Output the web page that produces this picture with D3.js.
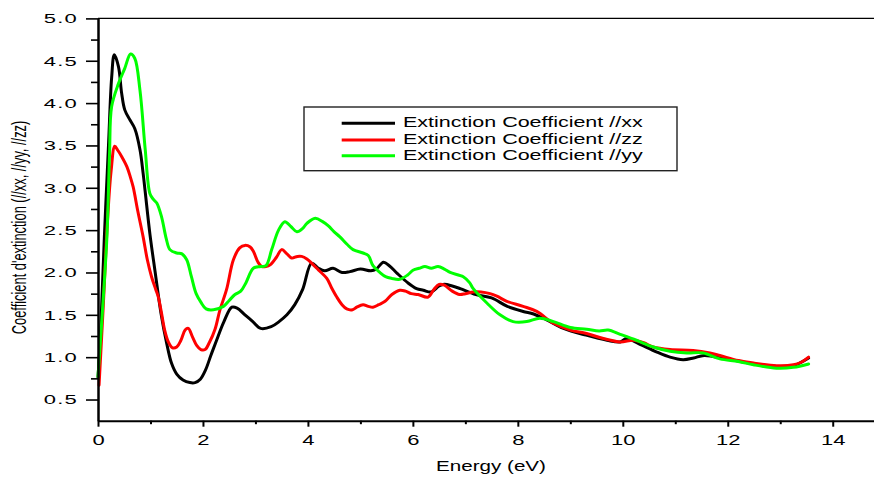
<!DOCTYPE html>
<html><head><meta charset="utf-8">
<script src="https://cdn.jsdelivr.net/npm/d3@7"></script>
<style>html,body{margin:0;padding:0;background:#fff;}svg{display:block;font-family:"Liberation Sans",Arial,sans-serif;}</style>
</head><body>
<svg id="c" width="874" height="477"></svg>
<script>
// ---- data ----
const xTicks = [0, 2, 4, 6, 8, 10, 12, 14];
const xMinorTicks = [1, 3, 5, 7, 9, 11, 13, 15];
const yTicks = [0.5, 1.0, 1.5, 2.0, 2.5, 3.0, 3.5, 4.0, 4.5, 5.0];
const yMinorTicks = [0.75, 1.25, 1.75, 2.25, 2.75, 3.25, 3.75, 4.25, 4.75];
const seriesNames = ["Extinction Coefficient //xx", "Extinction Coefficient //zz", "Extinction Coefficient //yy"];
const seriesColors = ["#000000", "#ff0000", "#00ff00"];

const kXX = [[0,0.76],[0.05,1.3],[0.12,2.4],[0.2,3.5],[0.26,4.3],[0.31,4.57],[0.39,4.43],[0.45,4.12],[0.51,3.92],[0.61,3.8],[0.7,3.7],[0.8,3.45],[0.86,3.17],[0.9,2.95],[0.99,2.45],[1.09,2.0],[1.2,1.52],[1.31,1.16],[1.4,0.93],[1.5,0.8],[1.62,0.73],[1.75,0.7],[1.85,0.7],[1.95,0.74],[2.05,0.85],[2.15,1.02],[2.26,1.2],[2.4,1.42],[2.55,1.59],[2.65,1.58],[2.8,1.5],[2.95,1.42],[3.1,1.34],[3.3,1.36],[3.45,1.42],[3.6,1.5],[3.75,1.62],[3.9,1.8],[4.07,2.11],[4.2,2.05],[4.32,2.02],[4.48,2.05],[4.65,2.0],[4.8,2.01],[5.0,2.04],[5.2,2.02],[5.3,2.04],[5.44,2.12],[5.55,2.08],[5.7,1.99],[5.9,1.88],[6.07,1.81],[6.2,1.79],[6.35,1.77],[6.5,1.84],[6.6,1.86],[6.75,1.84],[6.9,1.81],[7.2,1.74],[7.5,1.7],[7.8,1.6],[8.1,1.54],[8.3,1.51],[8.55,1.44],[8.87,1.34],[9.3,1.26],[9.7,1.2],[9.95,1.18],[10.07,1.22],[10.3,1.16],[10.65,1.06],[10.9,1.0],[11.15,0.97],[11.35,0.99],[11.55,1.02],[11.97,0.98],[12.5,0.92],[12.93,0.89],[13.25,0.9],[13.54,0.99]];

const kZZ = [[0.02,0.67],[0.1,1.6],[0.18,2.6],[0.25,3.2],[0.32,3.49],[0.38,3.44],[0.45,3.37],[0.55,3.25],[0.62,3.12],[0.67,3.01],[0.76,2.72],[0.86,2.42],[0.94,2.15],[1.02,1.95],[1.1,1.8],[1.15,1.71],[1.21,1.52],[1.27,1.32],[1.34,1.18],[1.42,1.11],[1.5,1.12],[1.58,1.2],[1.66,1.32],[1.72,1.34],[1.8,1.24],[1.88,1.14],[1.96,1.09],[2.04,1.09],[2.12,1.17],[2.23,1.33],[2.32,1.55],[2.45,1.8],[2.58,2.15],[2.7,2.29],[2.8,2.32],[2.9,2.3],[2.96,2.25],[3.05,2.12],[3.12,2.07],[3.2,2.07],[3.28,2.09],[3.4,2.18],[3.5,2.27],[3.6,2.22],[3.69,2.17],[3.8,2.19],[3.88,2.19],[3.98,2.16],[4.07,2.11],[4.2,2.03],[4.36,1.93],[4.45,1.82],[4.55,1.71],[4.65,1.62],[4.74,1.57],[4.85,1.56],[4.93,1.59],[5.05,1.62],[5.15,1.6],[5.24,1.59],[5.35,1.62],[5.47,1.66],[5.6,1.74],[5.75,1.79],[5.86,1.78],[5.97,1.75],[6.1,1.74],[6.29,1.71],[6.4,1.8],[6.5,1.86],[6.6,1.85],[6.75,1.78],[6.89,1.74],[7.0,1.75],[7.15,1.77],[7.3,1.77],[7.47,1.75],[7.6,1.72],[7.79,1.66],[8.1,1.6],[8.36,1.54],[8.68,1.4],[9.0,1.32],[9.31,1.28],[9.63,1.22],[9.95,1.18],[10.2,1.2],[10.4,1.17],[10.58,1.12],[10.9,1.09],[11.34,1.08],[11.66,1.05],[11.85,1.02],[12.2,0.96],[12.49,0.93],[12.93,0.9],[13.25,0.91],[13.4,0.94],[13.54,1.0]];

const kYY = [[0,0.77],[0.08,1.5],[0.17,2.42],[0.22,3.4],[0.26,3.96],[0.39,4.23],[0.51,4.41],[0.62,4.58],[0.7,4.53],[0.8,4.15],[0.9,3.45],[0.99,2.93],[1.06,2.86],[1.12,2.82],[1.21,2.66],[1.3,2.4],[1.37,2.27],[1.5,2.23],[1.6,2.22],[1.69,2.15],[1.78,1.95],[1.87,1.75],[1.96,1.65],[2.06,1.57],[2.2,1.56],[2.39,1.6],[2.5,1.67],[2.61,1.74],[2.72,1.78],[2.82,1.88],[2.96,2.05],[3.1,2.07],[3.2,2.08],[3.31,2.27],[3.44,2.5],[3.56,2.6],[3.68,2.54],[3.79,2.48],[3.9,2.52],[3.98,2.58],[4.14,2.64],[4.28,2.6],[4.39,2.55],[4.5,2.48],[4.61,2.42],[4.75,2.33],[4.86,2.27],[5.05,2.23],[5.15,2.2],[5.24,2.08],[5.37,2.0],[5.48,1.95],[5.6,1.93],[5.75,1.92],[5.9,1.97],[6.01,2.03],[6.12,2.05],[6.23,2.07],[6.35,2.05],[6.48,2.07],[6.6,2.04],[6.71,2.0],[6.96,1.95],[7.08,1.88],[7.15,1.81],[7.41,1.64],[7.66,1.5],[7.91,1.42],[8.17,1.42],[8.42,1.46],[8.68,1.42],[9.0,1.35],[9.31,1.33],[9.55,1.31],[9.72,1.32],[9.95,1.27],[10.26,1.2],[10.58,1.12],[10.9,1.07],[11.22,1.05],[11.53,1.05],[11.85,0.98],[12.2,0.95],[12.49,0.91],[12.93,0.87],[13.25,0.88],[13.54,0.92]];

const seriesData = [kXX, kZZ, kYY];

// ---- layout ----
const svg = d3.select("#c");
const x0 = 98, xEnd = 98 + 15 * 52.48;
const yTop = 18.4, yBot = 420.7;
const x = d3.scaleLinear().domain([0, 15]).range([x0, xEnd]);
const y = d3.scaleLinear().domain([0.25, 5.0]).range([yBot, yTop]);

// top frame line
svg.append("line").attr("x1", x0).attr("x2", xEnd).attr("y1", yTop).attr("y2", yTop)
  .attr("stroke", "#000").attr("stroke-width", 1.3);

// curves
const line = d3.line().x(d => x(d[0])).y(d => y(d[1])).curve(d3.curveCatmullRom.alpha(0.5));
[0, 1, 2].forEach(i => {
  svg.append("path").datum(seriesData[i]).attr("d", line)
    .attr("fill", "none").attr("stroke", seriesColors[i]).attr("stroke-width", 3)
    .attr("stroke-linejoin", "round").attr("stroke-linecap", "round");
});

// axes
const syY = 0.55, syX = 0.63, fs = 22;
const gy = svg.append("g").attr("transform", `translate(${x0},0)`)
  .call(d3.axisLeft(y).tickValues(yTicks).tickFormat(d3.format(".1f")).tickSize(12).tickSizeOuter(0).tickPadding(8));
gy.select(".domain").attr("stroke-width", 2.5);
gy.selectAll(".tick line").attr("stroke-width", 1.6);
gy.selectAll("text").attr("font-size", fs).attr("font-family", "Liberation Sans, Arial, sans-serif")
  .attr("letter-spacing", "1.2px")
  .attr("fill", "#000").attr("dy", "0.36em").attr("transform", `scale(1,${syY})`)
  .attr("y", 0);
const gyMinor = svg.append("g").attr("transform", `translate(${x0},0)`)
  .call(d3.axisLeft(y).tickValues(yMinorTicks).tickFormat("").tickSize(7).tickSizeOuter(0));
gyMinor.select(".domain").remove();
gyMinor.selectAll(".tick line").attr("stroke-width", 1.6);

const gx = svg.append("g").attr("transform", `translate(0,${yBot})`)
  .call(d3.axisBottom(x).tickValues(xTicks).tickFormat(d3.format("d")).tickSize(6).tickSizeOuter(0));
gx.select(".domain").attr("stroke-width", 2);
gx.selectAll(".tick line").attr("stroke-width", 2);
gx.selectAll("text").attr("font-size", fs).attr("font-family", "Liberation Sans, Arial, sans-serif")
  .attr("fill", "#000").attr("dy", 0).attr("y", 24.3 / syX).attr("transform", `scale(1,${syX})`);
const gxMinor = svg.append("g").attr("transform", `translate(0,${yBot})`)
  .call(d3.axisBottom(x).tickValues(xMinorTicks).tickFormat("").tickSize(3.5).tickSizeOuter(0));
gxMinor.select(".domain").remove();
gxMinor.selectAll(".tick line").attr("stroke-width", 2);

// axis titles
svg.append("text").text("Energy (eV)")
  .attr("transform", `translate(491,470.7) scale(1,0.68)`)
  .attr("text-anchor", "middle").attr("font-size", 20.6).attr("fill", "#000");
svg.append("text").text("Coefficient d'extinction (//xx, //yy, //zz)")
  .attr("transform", `translate(26,227.5) rotate(-90) scale(0.66,1)`)
  .attr("text-anchor", "middle").attr("font-size", 19.5).attr("fill", "#000");

// legend
const lg = svg.append("g");
lg.append("rect").attr("x", 304).attr("y", 107).attr("width", 373).attr("height", 63.7)
  .attr("fill", "#fff").attr("stroke", "#222").attr("stroke-width", 1.4);
const rowY = [123.3, 140, 155.7];
seriesNames.forEach((name, i) => {
  lg.append("line").attr("x1", 341.7).attr("x2", 395).attr("y1", rowY[i]).attr("y2", rowY[i])
    .attr("stroke", seriesColors[i]).attr("stroke-width", 3);
  lg.append("text").text(name)
    .attr("transform", `translate(403,${rowY[i] + 4}) scale(1,0.65)`)
    .attr("font-size", 21.5).attr("fill", "#000");
});
</script>
</body></html>
